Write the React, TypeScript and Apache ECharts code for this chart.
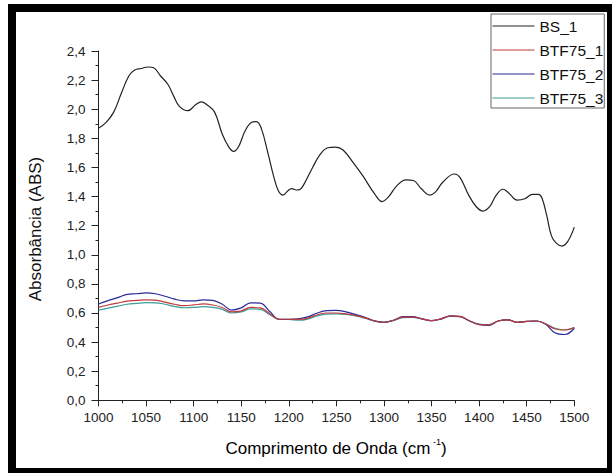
import React, { useEffect, useRef } from "react";
import * as echarts from "echarts";

const bsWavenumbers = [1000, 1008, 1016, 1024, 1032, 1038, 1045, 1052, 1058, 1065, 1073, 1079, 1085, 1094, 1102, 1108, 1114, 1122, 1130, 1137, 1142, 1147, 1154, 1161, 1166, 1171, 1178, 1184, 1189, 1194, 1199, 1203, 1208, 1212, 1218, 1225, 1233, 1241, 1249, 1257, 1268, 1278, 1290, 1298, 1305, 1313, 1323, 1331, 1339, 1348, 1354, 1362, 1374, 1380, 1389, 1397, 1404, 1411, 1418, 1425, 1431, 1440, 1448, 1456, 1462, 1466, 1471, 1476, 1481, 1487, 1493, 1500];
const bs1 = [1.87, 1.91, 1.98, 2.11, 2.23, 2.27, 2.28, 2.29, 2.285, 2.23, 2.17, 2.09, 2.02, 1.99, 2.03, 2.05, 2.03, 1.98, 1.83, 1.74, 1.71, 1.74, 1.85, 1.91, 1.915, 1.87, 1.70, 1.54, 1.44, 1.41, 1.44, 1.455, 1.445, 1.45, 1.51, 1.60, 1.69, 1.735, 1.74, 1.72, 1.63, 1.54, 1.42, 1.365, 1.40, 1.47, 1.515, 1.51, 1.455, 1.41, 1.43, 1.50, 1.555, 1.53, 1.41, 1.33, 1.30, 1.33, 1.41, 1.45, 1.425, 1.375, 1.385, 1.415, 1.415, 1.39, 1.27, 1.13, 1.08, 1.06, 1.09, 1.19];

const btfWavenumbers = [1000, 1010, 1020, 1030, 1040, 1050, 1060, 1070, 1080, 1090, 1100, 1110, 1120, 1130, 1140, 1150, 1160, 1170, 1180, 1190, 1200, 1210, 1220, 1230, 1240, 1250, 1260, 1270, 1280, 1290, 1300, 1310, 1320, 1330, 1340, 1350, 1360, 1370, 1380, 1390, 1400, 1410, 1420, 1430, 1440, 1450, 1460, 1470, 1480, 1490, 1500];
const btf75_1 = [0.639, 0.655, 0.668, 0.682, 0.686, 0.69, 0.688, 0.675, 0.66, 0.65, 0.655, 0.662, 0.655, 0.638, 0.607, 0.615, 0.638, 0.635, 0.595, 0.557, 0.557, 0.556, 0.565, 0.588, 0.6, 0.6, 0.594, 0.583, 0.566, 0.545, 0.536, 0.55, 0.572, 0.572, 0.56, 0.547, 0.56, 0.58, 0.577, 0.545, 0.522, 0.518, 0.545, 0.552, 0.536, 0.542, 0.545, 0.524, 0.49, 0.483, 0.5];
const btf75_2 = [0.662, 0.685, 0.705, 0.728, 0.732, 0.738, 0.732, 0.715, 0.695, 0.683, 0.683, 0.69, 0.686, 0.66, 0.62, 0.635, 0.67, 0.668, 0.61, 0.557, 0.557, 0.56, 0.573, 0.6, 0.616, 0.618, 0.608, 0.59, 0.57, 0.546, 0.536, 0.55, 0.575, 0.575, 0.56, 0.547, 0.56, 0.58, 0.575, 0.545, 0.52, 0.515, 0.545, 0.553, 0.536, 0.542, 0.545, 0.522, 0.462, 0.452, 0.495];
const btf75_3 = [0.62, 0.633, 0.647, 0.66, 0.666, 0.671, 0.67, 0.66, 0.645, 0.636, 0.638, 0.643, 0.638, 0.625, 0.6, 0.607, 0.628, 0.625, 0.588, 0.555, 0.555, 0.55, 0.558, 0.58, 0.592, 0.594, 0.59, 0.58, 0.565, 0.544, 0.536, 0.548, 0.568, 0.57, 0.558, 0.547, 0.558, 0.576, 0.574, 0.545, 0.524, 0.52, 0.545, 0.552, 0.536, 0.542, 0.545, 0.526, 0.495, 0.483, 0.5];

const seriesNames = ["BS_1", "BTF75_1", "BTF75_2", "BTF75_3"];
const seriesColors = ["#222222", "#c03a3a", "#2a2a9a", "#3a9e9a"];

const FONT = "'Liberation Sans', Arial, sans-serif";

export default function App() {
  const ref = useRef<HTMLDivElement>(null);
  useEffect(() => {
    document.body.style.margin = "0";
    const chart = echarts.init(ref.current!, null, { renderer: "svg" });
    const pair = (xs: number[], ys: number[]) => xs.map((x, i) => [x, ys[i]]);
    const datasets = [
      pair(bsWavenumbers, bs1),
      pair(btfWavenumbers, btf75_1),
      pair(btfWavenumbers, btf75_2),
      pair(btfWavenumbers, btf75_3),
    ];
    chart.setOption({
      animation: false,
      backgroundColor: "#ffffff",
      grid: { left: 98.5, right: 37.7, top: 51, bottom: 72.7 },
      legend: {
        orient: "vertical",
        left: 491,
        top: 14,
        padding: [4, 1, 2, 1],
        itemWidth: 42,
        itemHeight: 14,
        itemGap: 8,
        borderColor: "#666",
        borderWidth: 1,
        backgroundColor: "#fff",
        itemStyle: { opacity: 0 },
        lineStyle: { width: 1 },
        textStyle: { fontSize: 15.5, color: "#111", fontFamily: FONT },
        data: seriesNames,
      },
      xAxis: {
        type: "value",
        min: 1000,
        max: 1500,
        interval: 50,
        axisLine: { lineStyle: { color: "#222", width: 1 } },
        axisTick: { length: 6, lineStyle: { color: "#222" } },
        minorTick: { show: true, splitNumber: 2, length: 3, lineStyle: { color: "#222" } },
        splitLine: { show: false },
        axisLabel: {
          margin: 10,
          fontSize: 13.5,
          color: "#222",
          fontFamily: FONT,
          formatter: (v: number) => String(v),
        },
      },
      yAxis: {
        type: "value",
        min: 0,
        max: 2.4,
        interval: 0.2,
        axisLine: { show: true, lineStyle: { color: "#222", width: 1 } },
        axisTick: { show: true, length: 7, lineStyle: { color: "#222" } },
        minorTick: { show: true, splitNumber: 2, length: 3, lineStyle: { color: "#222" } },
        splitLine: { show: false },
        axisLabel: {
          margin: 13,
          fontSize: 13.5,
          color: "#222",
          fontFamily: FONT,
          formatter: (v: number) => v.toFixed(1).replace(".", ","),
        },
      },
      series: seriesNames.map((name, i) => ({
        name,
        type: "line",
        data: datasets[i],
        smooth: 0.4,
        symbol: "none",
        showSymbol: false,
        color: seriesColors[i],
        lineStyle: { color: seriesColors[i], width: 1.2 },
        z: 4 - i,
      })),
      graphic: [
        {
          type: "text",
          x: 35,
          y: 229,
          rotation: Math.PI / 2,
          style: {
            text: "Absorbância (ABS)",
            align: "center",
            verticalAlign: "middle",
            fontSize: 17,
            fontFamily: FONT,
            fill: "#111",
          },
        },
        {
          type: "text",
          x: 336,
          y: 448,
          style: {
            text: "{a|Comprimento de Onda (cm}{s| -1}{a|)}",
            align: "center",
            verticalAlign: "middle",
            rich: {
              a: { fontSize: 17, fontFamily: FONT, color: "#111" },
              s: { fontSize: 9, fontFamily: FONT, color: "#111", padding: [0, 0, 12, 0] },
            },
          },
        },
        {
          type: "rect",
          z: 100,
          shape: { x: 12, y: 8, width: 599, height: 464 },
          style: { fill: "none", stroke: "#000", lineWidth: 8 },
        },
      ],
    });
    return () => chart.dispose();
  }, []);
  return <div ref={ref} style={{ width: 612, height: 473 }} />;
}
